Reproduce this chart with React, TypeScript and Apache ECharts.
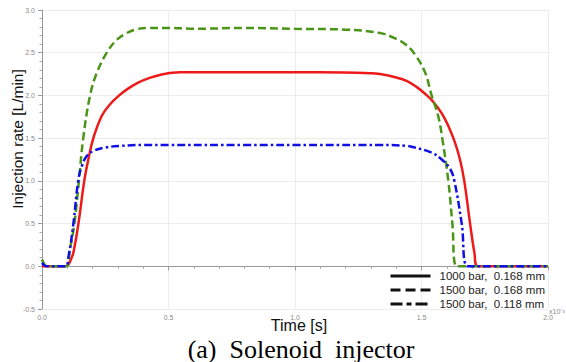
import React, { useEffect, useRef } from "react";
import * as echarts from "echarts";

const seriesNames = ["1000 bar,  0.168 mm", "1500 bar,  0.168 mm", "1500 bar,  0.118 mm"];

const redT = [0, 0.09, 0.104, 0.114, 0.124, 0.144, 0.167, 0.183, 0.203, 0.236, 0.27, 0.305, 0.34, 0.38, 0.42, 0.466, 0.545, 0.7, 0.9, 1.1, 1.3, 1.336, 1.4, 1.441, 1.48, 1.514, 1.545, 1.586, 1.626, 1.652, 1.669, 1.692, 1.709, 1.722, 2.0];
const redV = [0, 0, 0.02, 0.08, 0.16, 0.5, 1.0, 1.25, 1.5, 1.76, 1.9, 2.0, 2.08, 2.15, 2.2, 2.24, 2.27, 2.27, 2.27, 2.27, 2.26, 2.25, 2.21, 2.17, 2.1, 2.02, 1.93, 1.76, 1.5, 1.25, 1.0, 0.5, 0.16, 0, 0];

const greenT = [0, 0.01, 0.02, 0.095, 0.11, 0.128, 0.146, 0.163, 0.19, 0.216, 0.256, 0.295, 0.335, 0.368, 0.414, 0.5, 0.6, 0.8, 1.0, 1.2, 1.336, 1.402, 1.44, 1.474, 1.514, 1.54, 1.566, 1.582, 1.606, 1.622, 1.639, 2.0];
const greenV = [0.08, 0.02, 0, 0, 0.19, 0.5, 1.0, 1.5, 2.0, 2.26, 2.5, 2.65, 2.73, 2.77, 2.79, 2.79, 2.78, 2.79, 2.78, 2.77, 2.73, 2.66, 2.59, 2.48, 2.27, 2.0, 1.76, 1.5, 1.0, 0.5, 0, 0];

const blueT = [0, 0.01, 0.02, 0.092, 0.105, 0.124, 0.143, 0.157, 0.177, 0.203, 0.249, 0.315, 0.4, 0.5, 0.8, 1.1, 1.336, 1.441, 1.474, 1.54, 1.58, 1.613, 1.63, 1.659, 1.683, 2.0];
const blueV = [0.04, 0.01, 0, 0, 0.12, 0.5, 1.0, 1.17, 1.29, 1.35, 1.39, 1.41, 1.42, 1.42, 1.42, 1.42, 1.42, 1.41, 1.39, 1.33, 1.25, 1.14, 1.0, 0.5, 0, 0];

const xTitle = "Time [s]";
const yTitle = "Injection rate [L/min]";
const caption = "(a)  Solenoid  injector";
const xScaleNote = "x10⁻³";

const zip = (t: number[], v: number[]) => t.map((x, i) => [x, v[i]]);

export default function App() {
  const ref = useRef<HTMLDivElement>(null);
  useEffect(() => {
    if (!ref.current) return;
    const chart = echarts.init(ref.current, null, { renderer: "svg" });
    const axisCommon = {
      type: "value" as const,
      axisLine: { show: true, lineStyle: { color: "#9a9a9a", width: 1 } },
      axisTick: { show: true, length: 4, lineStyle: { color: "#9a9a9a" } },
      minorTick: { show: true, splitNumber: 5, length: 2.5, lineStyle: { color: "#aaaaaa" } },
      splitLine: { show: true, lineStyle: { color: "#ececec", width: 1 } },
      axisLabel: {
        fontSize: 7,
        color: "#8a8a8a",
        fontFamily: "Liberation Sans",
        formatter: (v: number) => v.toFixed(1),
      },
    };
    const lineCommon = {
      type: "line" as const,
      symbol: "none",
      showSymbol: false,
      smooth: 0.4,
    };
    chart.setOption({
      animation: false,
      grid: { left: 42, right: 18, top: 10, bottom: 53, containLabel: false },
      xAxis: {
        ...axisCommon,
        min: 0,
        max: 2,
        interval: 0.5,
        axisLabel: { ...axisCommon.axisLabel, margin: 5 },
      },
      yAxis: {
        ...axisCommon,
        min: -0.5,
        max: 3,
        interval: 0.5,
        axisLabel: { ...axisCommon.axisLabel, margin: 7 },
      },
      legend: {
        orient: "vertical",
        right: 16,
        top: 264,
        itemWidth: 40,
        itemHeight: 14,
        itemGap: 0,
        lineStyle: { color: "#111111", width: 3 },
        itemStyle: { opacity: 0 },
        textStyle: {
          fontSize: 11.5,
          lineHeight: 14,
          color: "#222",
          fontFamily: "Liberation Sans",
          padding: [0, 0, 0, 4],
        },
        data: [
          { name: seriesNames[0], lineStyle: { color: "#111111", width: 3, type: "solid" }, itemStyle: { opacity: 0 } },
          { name: seriesNames[1], lineStyle: { color: "#111111", width: 3, type: [10, 5] }, itemStyle: { opacity: 0 } },
          { name: seriesNames[2], lineStyle: { color: "#111111", width: 3, type: [12, 4, 5, 4] }, itemStyle: { opacity: 0 } },
        ],
      },
      graphic: [
        {
          type: "text",
          x: 17,
          y: 139,
          rotation: Math.PI / 2,
          style: {
            text: yTitle,
            fontSize: 15.5,
            fill: "#111",
            fontFamily: "Liberation Sans",
            textAlign: "center",
            textVerticalAlign: "middle",
          },
        },
        {
          type: "text",
          x: 299,
          y: 325,
          style: {
            text: xTitle,
            fontSize: 16,
            fill: "#111",
            fontFamily: "Liberation Sans",
            textAlign: "center",
            textVerticalAlign: "middle",
          },
        },
        {
          type: "text",
          x: 301,
          y: 349,
          style: {
            text: caption,
            fontSize: 26,
            fill: "#000",
            fontFamily: "Liberation Serif",
            textAlign: "center",
            textVerticalAlign: "middle",
          },
        },
        {
          type: "text",
          x: 549,
          y: 311,
          style: {
            text: xScaleNote,
            fontSize: 7,
            fill: "#8a8a8a",
            fontFamily: "Liberation Sans",
            textAlign: "left",
            textVerticalAlign: "middle",
          },
        },
      ],
      series: [
        {
          ...lineCommon,
          name: seriesNames[0],
          data: zip(redT, redV),
          lineStyle: { color: "#ee1a1a", width: 2.5, type: "solid" },
          itemStyle: { color: "#ee1a1a" },
        },
        {
          ...lineCommon,
          name: seriesNames[1],
          data: zip(greenT, greenV),
          lineStyle: { color: "#4a9418", width: 2.5, type: [8, 4] },
          itemStyle: { color: "#4a9418" },
        },
        {
          ...lineCommon,
          name: seriesNames[2],
          data: zip(blueT, blueV),
          lineStyle: { color: "#1010e6", width: 2.5, type: [8, 3, 2.5, 3] },
          itemStyle: { color: "#1010e6" },
        },
      ],
    });
    return () => chart.dispose();
  }, []);
  return (
    <div
      ref={ref}
      style={{ position: "fixed", left: 0, top: 0, width: 566, height: 362, background: "#fff" }}
    />
  );
}
